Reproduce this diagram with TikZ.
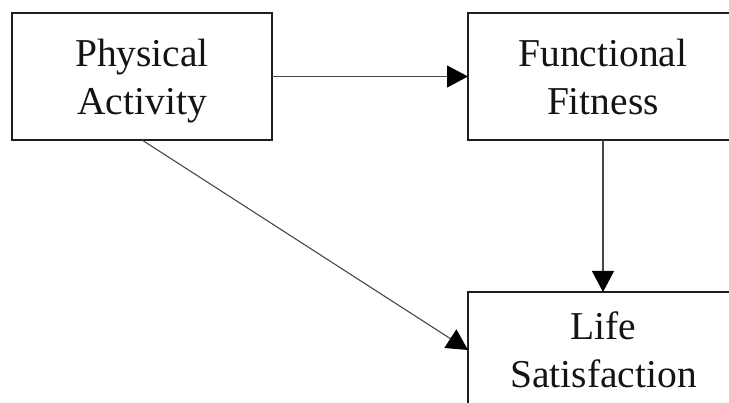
\documentclass[tikz,border=0pt]{standalone}
\usepackage{fontspec}
\setmainfont{Liberation Serif}
\usetikzlibrary{arrows.meta}
\begin{document}
\begin{tikzpicture}[x=1pt,y=-1pt,
  box/.style={draw=black!88,line width=2.2pt,minimum width=260pt,minimum height=127pt,inner sep=0pt,outer sep=0pt},
  lbl/.style={inner sep=0pt,align=center,font=\fontsize{39.5}{48}\selectfont,text=black!92},
  conn/.style={draw=black!72,line width=1.1pt,-{Triangle[length=21pt,width=22pt,color=black]}}]
\useasboundingbox (0,0) rectangle (729,403);
\clip (0,0) rectangle (729,403);
\node[box] (pa) at (142,76.5) {};
\node[box,minimum width=270pt] (ff) at (603,76.5) {};
\node[box,minimum width=270pt,minimum height=116pt] (ls) at (603,350) {};
\node[lbl] (pat) at (142,81.4) {\strut Physical\\\strut Activity};
\node[lbl] (fft) at (603,81.4) {\strut Functional\\\strut Fitness};
\node[lbl] (lst) at (603.5,354.4) {\strut Life\\\strut Satisfaction};
\draw[conn] (pa.east) -- (ff.west);
\draw[conn] (ff.south) -- (ls.north);
\draw[conn] (pa.south) -- (ls.west);
\end{tikzpicture}
\end{document}
